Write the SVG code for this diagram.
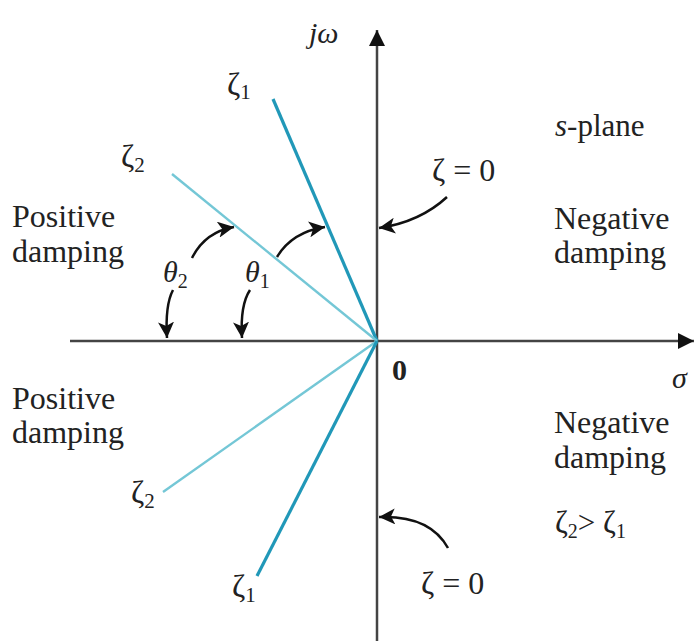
<svg xmlns="http://www.w3.org/2000/svg" width="696" height="641" viewBox="0 0 696 641">
  <style>
    text { font-family: "Liberation Serif", "Times New Roman", serif; fill: #222; }
    .lbl { font-size: 32px; }
    .it { font-style: italic; }
    .z { font-size: 32px; }
    .axis { stroke: #444; stroke-width: 2.5; fill: none; }
    .curve { stroke: #111; stroke-width: 2.5; fill: none; }
    .z1 { stroke: #2198b8; stroke-width: 3.2; }
    .z2 { stroke: #74c7d6; stroke-width: 2.4; }
  </style>
  <defs>
    <marker id="ah" markerUnits="userSpaceOnUse" markerWidth="18" markerHeight="16" refX="16" refY="8" orient="auto">
      <path d="M0,0 L16,8 L0,16 L4,8 z" fill="#111"/>
    </marker>
    <marker id="axh" markerUnits="userSpaceOnUse" markerWidth="18" markerHeight="18" refX="16" refY="8" orient="auto">
      <path d="M0,0 L16,8 L0,16 z" fill="#111"/>
    </marker>
  </defs>
  <rect width="696" height="641" fill="#fff"/>

  <g id="connectors">
    <line id="sigma-axis" class="axis" x1="70" y1="341" x2="694" y2="341" marker-end="url(#axh)"/>
    <line id="jw-axis" class="axis" x1="377" y1="641" x2="377" y2="30" marker-end="url(#axh)"/>
    <line id="z1-upper" class="z1" x1="377" y1="341" x2="273" y2="99"/>
    <line id="z2-upper" class="z2" x1="377" y1="341" x2="172" y2="174"/>
    <line id="z2-lower" class="z2" x1="377" y1="341" x2="163" y2="492"/>
    <line id="z1-lower" class="z1" x1="377" y1="341" x2="257" y2="576"/>
    <path id="arr-zeta0-top" class="curve" d="M447,197 Q420,222 379,228" marker-end="url(#ah)"/>
    <path id="arr-zeta0-bot" class="curve" d="M448,548 Q430,515 379,517" marker-end="url(#ah)"/>
    <path id="arr-theta1-up" class="curve" d="M277,257 Q292,232 325,227" marker-end="url(#ah)"/>
    <path id="arr-theta2-up" class="curve" d="M192,258 Q205,232 234,227" marker-end="url(#ah)"/>
    <path id="arr-theta1-down" class="curve" d="M250,290 Q240,305 242,338" marker-end="url(#ah)"/>
    <path id="arr-theta2-down" class="curve" d="M173,290 Q165,305 167,338" marker-end="url(#ah)"/>
  </g>

  <g id="label-jw"><text x="309" y="43" class="it" font-size="30">jω</text></g>
  <g id="label-sigma"><text x="672" y="388" class="it" font-size="30">σ</text></g>
  <g id="label-origin"><text x="392" y="380" font-size="30" font-weight="bold">0</text></g>
  <g id="label-splane"><text x="555" y="136" font-size="31"><tspan font-style="italic">s</tspan>-plane</text></g>

  <g id="region-pos-upper">
    <text x="12" y="227" class="lbl">Positive</text>
    <text x="12" y="262" class="lbl">damping</text>
  </g>
  <g id="region-neg-upper">
    <text x="554" y="229" class="lbl">Negative</text>
    <text x="554" y="263" class="lbl">damping</text>
  </g>
  <g id="region-pos-lower">
    <text x="12" y="409" class="lbl">Positive</text>
    <text x="12" y="443" class="lbl">damping</text>
  </g>
  <g id="region-neg-lower">
    <text x="554" y="433" class="lbl">Negative</text>
    <text x="554" y="468" class="lbl">damping</text>
    <text x="555" y="533" font-size="31">ζ<tspan font-size="20" dy="5">2</tspan><tspan dy="-5">&gt; ζ</tspan><tspan font-size="20" dy="5">1</tspan></text>
  </g>

  <g id="label-z1-upper"><text x="227" y="95" class="z">ζ<tspan font-size="21" dy="4">1</tspan></text></g>
  <g id="label-z2-upper"><text x="121" y="167" class="z">ζ<tspan font-size="21" dy="5">2</tspan></text></g>
  <g id="label-z2-lower"><text x="131" y="503" class="z">ζ<tspan font-size="21" dy="5">2</tspan></text></g>
  <g id="label-z1-lower"><text x="232" y="597" class="z">ζ<tspan font-size="21" dy="5">1</tspan></text></g>

  <g id="label-zeta0-top"><text x="432" y="181" font-size="32">ζ = 0</text></g>
  <g id="label-zeta0-bot"><text x="421" y="594" font-size="32">ζ = 0</text></g>

  <g id="label-theta2"><text x="163" y="282" class="it" font-size="30">θ<tspan font-style="normal" font-size="20" dy="6">2</tspan></text></g>
  <g id="label-theta1"><text x="245" y="282" class="it" font-size="30">θ<tspan font-style="normal" font-size="20" dy="6">1</tspan></text></g>
</svg>
